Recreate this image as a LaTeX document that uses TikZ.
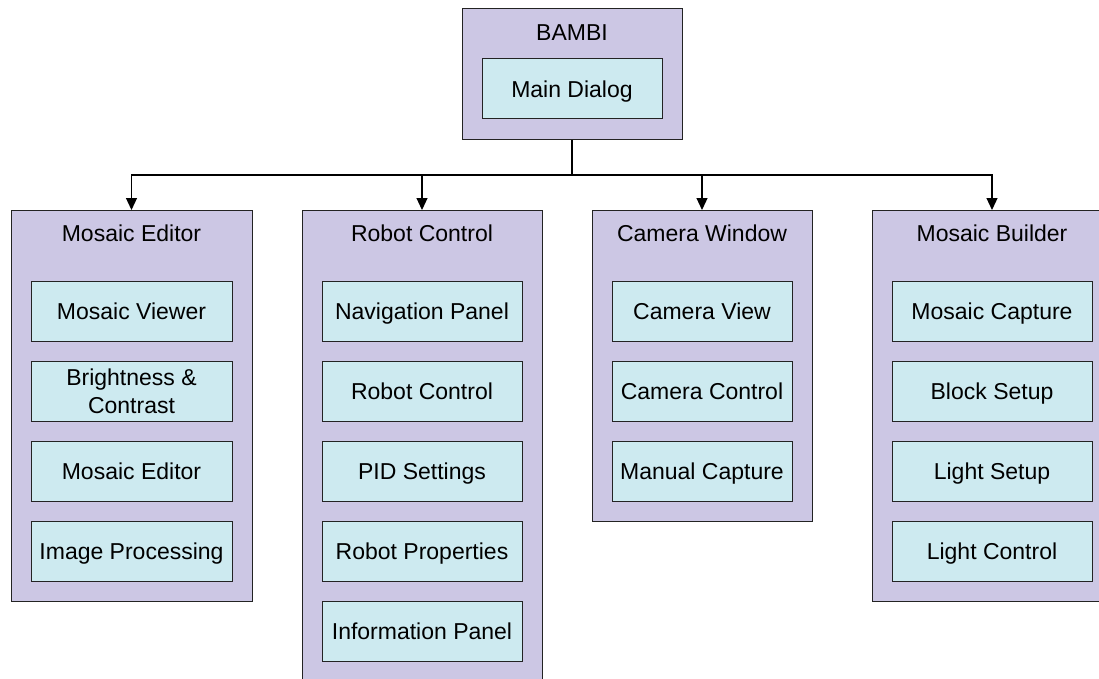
\documentclass[tikz,border=0pt]{standalone}
\usepackage{fontspec}
\setmainfont{Liberation Sans}
\usetikzlibrary{arrows.meta}
\definecolor{outerfill}{RGB}{204,199,228}
\definecolor{innerfill}{RGB}{205,234,240}
\definecolor{edge}{RGB}{35,35,35}
\begin{document}
\begin{tikzpicture}[x=1pt,y=-1pt,
  labelfont/.style={font=\fontsize{23}{27.7}\selectfont},
  oneline/.style={text height=21pt, text depth=4.5pt},
  frame/.style={draw=edge, fill=outerfill, line width=1pt, anchor=north west,
    inner sep=0pt, outer sep=0pt},
  panelbase/.style={draw=edge, fill=innerfill, line width=1pt, anchor=north west,
    inner sep=0pt, outer sep=0pt, minimum height=60pt, align=center, labelfont},
  panel/.style={panelbase, oneline},
  heading/.style={inner sep=0pt, labelfont, oneline},
  link/.style={line width=1.2pt, black},
  arrowlink/.style={link, -{Triangle[length=12pt,width=11pt]}}
]
\useasboundingbox (0,0) rectangle (1099,679);
\clip (0,0) rectangle (1099,679);
\fill[white] (0,0) rectangle (1099,679);

% top-level application
\node[frame, minimum width=220pt, minimum height=131pt] (bambi) at (462,9) {};
\node[heading] (bambiT) at ([yshift=-23pt]bambi.north) {BAMBI};
\node[panel, minimum width=180pt] (maindlg) at (482,59) {Main Dialog};

% Mosaic Editor group
\node[frame, minimum width=241pt, minimum height=391pt] (medit) at (11,210) {};
\node[heading] (meditT) at ([yshift=-23pt]medit.north) {Mosaic Editor};
\node[panel, minimum width=201pt] (me1) at (31,281) {Mosaic Viewer};
\node[panelbase, minimum width=201pt] (me2) at (31,361) {Brightness \&\\Contrast};
\node[panel, minimum width=201pt] (me3) at (31,441) {Mosaic Editor};
\node[panel, minimum width=201pt] (me4) at (31,521) {Image Processing};

% Robot Control group
\node[frame, minimum width=240pt, minimum height=472pt] (robot) at (302,210) {};
\node[heading] (robotT) at ([yshift=-23pt]robot.north) {Robot Control};
\node[panel, minimum width=200pt] (rc1) at (322,281) {Navigation Panel};
\node[panel, minimum width=200pt] (rc2) at (322,361) {Robot Control};
\node[panel, minimum width=200pt] (rc3) at (322,441) {PID Settings};
\node[panel, minimum width=200pt] (rc4) at (322,521) {Robot Properties};
\node[panel, minimum width=200pt] (rc5) at (322,601) {Information Panel};

% Camera Window group
\node[frame, minimum width=220pt, minimum height=311pt] (camera) at (592,210) {};
\node[heading] (cameraT) at ([yshift=-23pt]camera.north) {Camera Window};
\node[panel, minimum width=180pt] (cw1) at (612,281) {Camera View};
\node[panel, minimum width=180pt] (cw2) at (612,361) {Camera Control};
\node[panel, minimum width=180pt] (cw3) at (612,441) {Manual Capture};

% Mosaic Builder group
\node[frame, minimum width=240pt, minimum height=391pt] (builder) at (872,210) {};
\node[heading] (builderT) at ([yshift=-23pt]builder.north) {Mosaic Builder};
\node[panel, minimum width=200pt] (mb1) at (892,281) {Mosaic Capture};
\node[panel, minimum width=200pt] (mb2) at (892,361) {Block Setup};
\node[panel, minimum width=200pt] (mb3) at (892,441) {Light Setup};
\node[panel, minimum width=200pt] (mb4) at (892,521) {Light Control};

% connectors from the main window to each group
\coordinate (bus) at (bambi.south |- 0,175);
\draw[link] (bambi.south) -- (bus);
\draw[arrowlink] (bus) -| (medit.north);
\draw[arrowlink] (bus) -| (robot.north);
\draw[arrowlink] (bus) -| (camera.north);
\draw[arrowlink] (bus) -| (builder.north);
\end{tikzpicture}
\end{document}
